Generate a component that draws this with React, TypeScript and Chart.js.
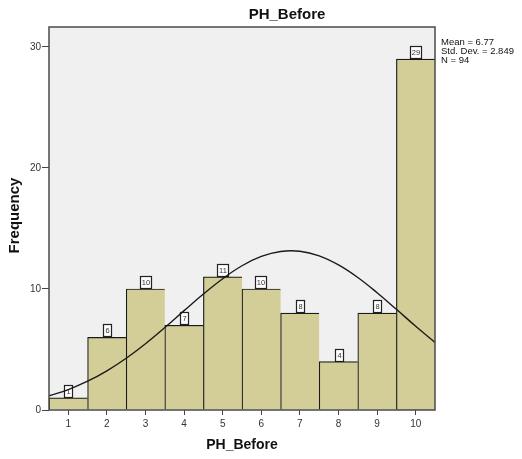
import React, { useEffect, useRef } from "react";
import { Chart, registerables } from "chart.js";

Chart.register(...registerables);

const categories = [1, 2, 3, 4, 5, 6, 7, 8, 9, 10];
const frequencies = [1, 6, 10, 7, 11, 10, 8, 4, 8, 29];
const yTicks = [0, 10, 20, 30];
// Normal curve heights read at half-unit steps (mean 6.77, sd 2.849, N 94)
const curveX = [0.5, 1, 1.5, 2, 2.5, 3, 3.5, 4, 4.5, 5, 5.5, 6, 6.5, 7, 7.5, 8, 8.5, 9, 9.5, 10, 10.5];
const curveY = [1.17, 1.69, 2.38, 3.24, 4.28, 5.48, 6.81, 8.21, 9.58, 10.85, 11.92, 12.69, 13.10, 13.12, 12.74, 11.99, 10.95, 9.69, 8.32, 6.92, 5.59];
const statLines = ["Mean = 6.77", "Std. Dev. = 2.849", "N = 94"];
const titleText = "PH_Before";
const xTitle = "PH_Before";
const yTitle = "Frequency";

const FONT = "Arial, 'Liberation Sans', sans-serif";

export default function App() {
  const ref = useRef<HTMLCanvasElement | null>(null);
  useEffect(() => {
    if (!ref.current) return;
    const framePlugin = {
      id: "frame",
      beforeDraw(chart: any) {
        const { ctx, chartArea: a } = chart;
        ctx.save();
        ctx.fillStyle = "#F0F0F0";
        ctx.fillRect(a.left, a.top, a.right - a.left, a.bottom - a.top);
        ctx.restore();
      },
      beforeDatasetsDraw(chart: any) {
        const { ctx } = chart;
        const xs = chart.scales.x;
        const ys = chart.scales.y;
        ctx.save();
        ctx.font = `7.5px ${FONT}`;
        ctx.textAlign = "center";
        ctx.textBaseline = "middle";
        categories.forEach((c, i) => {
          const cx = Math.round(xs.getPixelForValue(c));
          const top = Math.round(ys.getPixelForValue(frequencies[i]));
          const label = String(frequencies[i]);
          const w = label.length > 1 ? 12 : 9;
          const h = 13;
          const x0 = cx - Math.floor(w / 2), y0 = top - h;
          ctx.fillStyle = "#FFFFFF";
          ctx.fillRect(x0, y0, w, h);
          ctx.strokeStyle = "#222";
          ctx.lineWidth = 1.2;
          ctx.strokeRect(x0 + 0.5, y0 + 0.5, w - 1, h - 1);
          ctx.fillStyle = "#333";
          ctx.fillText(label, x0 + w / 2, y0 + h / 2 + 0.5);
        });
        ctx.restore();
      },
      afterDraw(chart: any) {
        const { ctx, chartArea: a } = chart;
        ctx.save();
        ctx.strokeStyle = "#4A4A4A";
        ctx.lineWidth = 1.5;
        ctx.strokeRect(a.left, a.top, a.right - a.left, a.bottom - a.top);
        ctx.fillStyle = "#111";
        ctx.textAlign = "center";
        ctx.textBaseline = "middle";
        ctx.font = `bold 15px ${FONT}`;
        ctx.fillText(titleText, 279, 6.5);
        ctx.font = `bold 14px ${FONT}`;
        ctx.fillText(xTitle, (a.left + a.right) / 2, 437.5);
        ctx.save();
        ctx.translate(6.5, (a.top + a.bottom) / 2 - 3);
        ctx.rotate(-Math.PI / 2);
        ctx.font = `bold 15px ${FONT}`;
        ctx.fillText(yTitle, 0, 0);
        ctx.restore();
        ctx.textAlign = "left";
        ctx.font = `9.5px ${FONT}`;
        statLines.forEach((s, i) => {
          ctx.fillText(s, a.right + 6, 34 + i * 9);
        });
        ctx.restore();
      },
    };

    const chart = new Chart(ref.current, {
      type: "bar",
      data: {
        datasets: [
          {
            type: "line",
            data: curveX.map((x, i) => ({ x, y: curveY[i] })),
            borderColor: "#1A1A1A",
            borderWidth: 1.4,
            pointRadius: 0,
            tension: 0.4,
            fill: false,
            order: 1,
          } as any,
          {
            type: "bar",
            data: categories.map((c, i) => ({ x: c, y: frequencies[i] })),
            backgroundColor: "#D3CE98",
            borderColor: "#1A1A1A",
            borderWidth: { top: 1.2, left: 1.2, right: 0, bottom: 0 },
            borderSkipped: false,
            barPercentage: 1,
            categoryPercentage: 1,
            order: 2,
          } as any,
        ],
      },
      options: {
        responsive: true,
        maintainAspectRatio: false,
        animation: false,
        layout: { padding: { top: 19, right: 79, left: 0, bottom: 0 } },
        plugins: { legend: { display: false }, tooltip: { enabled: false }, title: { display: false } },
        scales: {
          x: {
            type: "linear",
            min: 0.5,
            max: 10.5,
            offset: false,
            afterBuildTicks: (s: any) => {
              s.ticks = categories.map((v) => ({ value: v }));
            },
            afterFit: (s: any) => {
              s.height = 41;
            },
            grid: { display: true, offset: false, drawOnChartArea: false, drawTicks: true, tickLength: 5, color: "#444" },
            border: { display: false },
            ticks: { font: { size: 10, family: FONT }, color: "#333", padding: 3, maxRotation: 0, autoSkip: false },
          },
          y: {
            type: "linear",
            min: 0,
            max: 31.65,
            afterBuildTicks: (s: any) => {
              s.ticks = yTicks.map((v) => ({ value: v }));
            },
            afterFit: (s: any) => {
              s.width = 41;
            },
            grid: { display: true, drawOnChartArea: false, drawTicks: true, tickLength: 7, color: "#444" },
            border: { display: false },
            ticks: { font: { size: 10, family: FONT }, color: "#333", padding: 1 },
          },
        },
      } as any,
      plugins: [framePlugin],
    });
    return () => chart.destroy();
  }, []);
  return (
    <div style={{ width: 506, height: 443, position: "relative" }}>
      <canvas ref={ref} />
    </div>
  );
}
